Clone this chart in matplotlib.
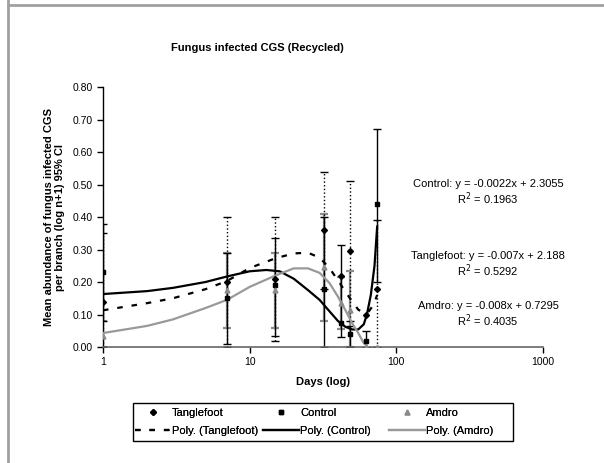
import matplotlib
matplotlib.use('Agg')
import matplotlib.pyplot as plt
from matplotlib.lines import Line2D
from matplotlib.patches import Rectangle
import numpy as np

plt.rcParams['font.family'] = ['Liberation Sans', 'DejaVu Sans']

# sampling days
days = [1, 7, 15, 32, 42, 48, 62, 74]

# means and 95% CI bounds
tangle = [0.14, 0.20, 0.21, 0.36, 0.22, 0.295, 0.10, 0.18]
tangle_lo = [0.0, 0.0, 0.02, 0.18, 0.22, 0.08, 0.10, 0.0]
tangle_hi = [0.35, 0.40, 0.40, 0.54, 0.22, 0.51, 0.10, 0.39]

control = [0.23, 0.15, 0.19, 0.18, 0.075, 0.04, 0.02, 0.44]
control_lo = [0.08, 0.01, 0.035, 0.0, 0.03, 0.0, 0.0, 0.20]
control_hi = [0.38, 0.29, 0.335, 0.40, 0.315, 0.065, 0.05, 0.67]

amdro = [0.035, 0.175, 0.175, 0.245, 0.135, 0.115, 0.0, 0.0]
amdro_lo = [0.0, 0.06, 0.06, 0.08, 0.055, 0.0, 0.0, 0.0]
amdro_hi = [0.08, 0.29, 0.29, 0.41, 0.215, 0.235, 0.0, 0.0]

# polynomial trend lines
tangle_fit_x = [1, 2, 3, 5, 7, 10, 15, 20, 25, 30, 35, 40, 45, 50, 55, 60, 65, 70, 74]
tangle_fit_y = [0.113, 0.135, 0.15, 0.178, 0.203, 0.243, 0.273, 0.288, 0.29, 0.275,
                0.243, 0.205, 0.17, 0.14, 0.115, 0.105, 0.11, 0.13, 0.16]
control_fit_x = [1, 2, 3, 5, 7, 10, 13, 16, 20, 25, 30, 35, 40, 45, 50, 55, 60, 63, 67, 71, 74]
control_fit_y = [0.163, 0.172, 0.182, 0.2, 0.217, 0.233, 0.237, 0.233, 0.21, 0.175, 0.145,
                 0.11, 0.08, 0.062, 0.054, 0.054, 0.07, 0.1, 0.16, 0.25, 0.37]
amdro_fit_x = [1, 2, 3, 5, 7, 10, 15, 20, 25, 30, 35, 40, 45, 50, 55, 60, 64]
amdro_fit_y = [0.043, 0.065, 0.085, 0.12, 0.145, 0.185, 0.22, 0.242, 0.242, 0.228,
               0.197, 0.155, 0.113, 0.073, 0.043, 0.012, 0.0]

equations = ['Control: y = -0.0022x + 2.3055\nR$^2$ = 0.1963',
             'Tanglefoot: y = -0.007x + 2.188\nR$^2$ = 0.5292',
             'Amdro: y = -0.008x + 0.7295\nR$^2$ = 0.4035']

gray = '#8c8c8c'

fig = plt.figure(figsize=(6.04, 4.63), dpi=100)
ax = fig.add_axes([0.1705, 0.2505, 0.7285, 0.5616])


def bars(ax, x, lo, hi, mean, color, ls, lw):
    x = np.array(x)
    lo = np.array(lo)
    hi = np.array(hi)
    m = np.array(mean)
    keep = hi > lo
    err = [m[keep] - lo[keep], hi[keep] - m[keep]]
    eb = ax.errorbar(x[keep], m[keep], yerr=err, fmt='none', ecolor=color,
                     elinewidth=lw, capsize=3, capthick=lw, zorder=2)
    eb[2][0].set_linestyle(ls)


bars(ax, days, amdro_lo, amdro_hi, amdro, gray, '-', 1.6)
bars(ax, days, control_lo, control_hi, control, 'black', '-', 1.0)
bars(ax, days, tangle_lo, tangle_hi, tangle, 'black', ':', 1.0)

p1, = ax.plot(days, tangle, 'D', color='black', ms=3, ls='none', zorder=4)
l1, = ax.plot(tangle_fit_x, tangle_fit_y, color='black', lw=1.6, ls=(0, (2.5, 4)), zorder=3)
p2, = ax.plot(days, control, 's', color='black', ms=3, ls='none', zorder=4)
l2, = ax.plot(control_fit_x, control_fit_y, color='black', lw=1.6, zorder=3)
p3, = ax.plot(days, amdro, '^', color=gray, ms=3.5, ls='none', zorder=4)
l3, = ax.plot(amdro_fit_x, amdro_fit_y, color='#999999', lw=1.6, zorder=3)

ax.set_xscale('log')
ax.set_xlim(1, 1000)
ax.set_ylim(0, 0.8)
ax.set_yticks(np.arange(0, 0.81, 0.1))
ax.set_yticklabels(['%.2f' % v for v in np.arange(0, 0.81, 0.1)])
ax.set_xticks([1, 10, 100, 1000])
ax.set_xticklabels(['1', '10', '100', '1000'])
ax.xaxis.set_minor_locator(matplotlib.ticker.NullLocator())
ax.tick_params(labelsize=7.5, length=4, width=1, direction='out')
for s in ['top', 'right']:
    ax.spines[s].set_visible(False)
ax.spines['left'].set_color('black')
ax.spines['bottom'].set_color('#666666')
ax.spines['left'].set_linewidth(1)
ax.spines['bottom'].set_linewidth(1.2)
ax.set_xlabel('Days (log)', fontsize=8, fontweight='bold', labelpad=7)
ax.set_ylabel('Mean abundance of fungus infected CGS\nper branch (log n+1) 95% CI',
              fontsize=8, fontweight='bold', labelpad=5)

fig.text(0.426, 0.896, 'Fungus infected CGS (Recycled)', fontsize=8, fontweight='bold',
         ha='center', va='center')

for txt, yy in zip(equations, [0.583, 0.427, 0.319]):
    fig.text(0.808, yy, txt, fontsize=8, ha='center', va='center', linespacing=1.1)

# legend: three equal columns inside one frame, like the spreadsheet legend
cols = [([p1, l1], ['Tanglefoot', 'Poly. (Tanglefoot)']),
        ([p2, l2], ['Control', 'Poly. (Control)']),
        ([p3, l3], ['Amdro', 'Poly. (Amdro)'])]
for (hh, ll), xpx in zip(cols, [135, 263, 389]):
    lg = fig.legend(hh, ll, loc='upper left', bbox_to_anchor=(xpx / 604, 1 - 408 / 463),
                    fontsize=8, frameon=False, handlelength=3.2, handletextpad=0.15,
                    borderpad=0, borderaxespad=0, labelspacing=0.7)
    fig.add_artist(lg)
fig.patches.append(Rectangle((133 / 604, 1 - 441 / 463), 380 / 604, 38 / 463, fill=False,
                             ec='black', lw=1, transform=fig.transFigure, figure=fig))

fig.add_artist(Line2D([8 / 604, 1], [1 - 5 / 463, 1 - 5 / 463], transform=fig.transFigure,
                      color='#a0a0a0', lw=2))
fig.add_artist(Line2D([8 / 604, 8 / 604], [0, 1], transform=fig.transFigure,
                      color='#a0a0a0', lw=2))

fig.savefig('out.png', dpi=100)
